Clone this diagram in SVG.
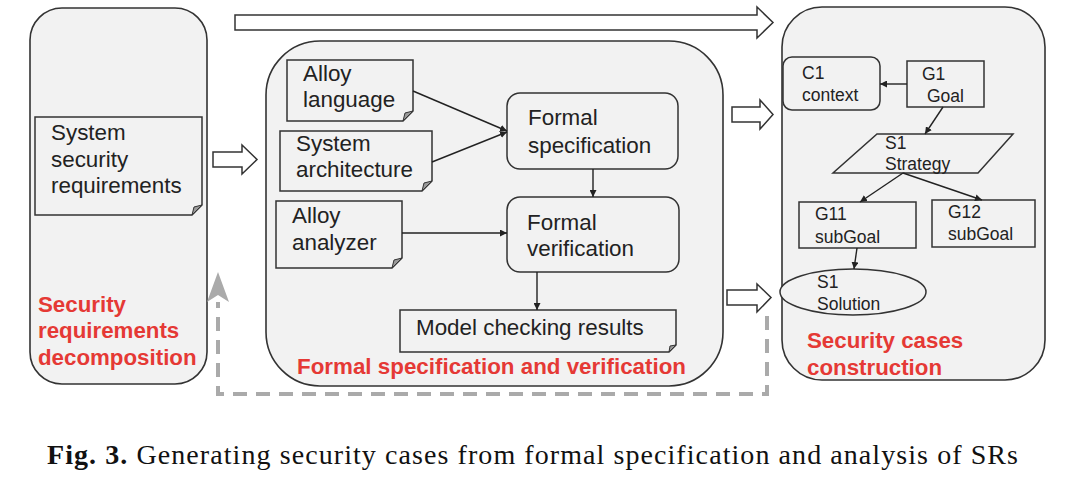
<svg xmlns="http://www.w3.org/2000/svg" width="1074" height="486" viewBox="0 0 1074 486">
<defs>
<marker id="ah" viewBox="0 0 10 10" refX="10" refY="5" markerWidth="7" markerHeight="7" markerUnits="userSpaceOnUse" orient="auto">
<path d="M0,0 L10,5 L0,10 Z" fill="#222"/>
</marker>
<style>
.cont{fill:#f2f2f2;stroke:#333;stroke-width:1.6}
.box{fill:#f2f2f2;stroke:#333;stroke-width:1.5}
.fold{fill:#9a9a9a;stroke:#333;stroke-width:1}
.hollow{fill:#fff;stroke:#333;stroke-width:1.5;stroke-linejoin:miter}
.t{font-family:"Liberation Sans",Arial,sans-serif;font-size:22.4px;fill:#222}
.s{font-family:"Liberation Sans",Arial,sans-serif;font-size:17.5px;fill:#222}
.red{font-family:"Liberation Sans",Arial,sans-serif;font-size:22.3px;font-weight:bold;fill:#e53935}
.edge{fill:none;stroke:#222;stroke-width:1.4}
.cap{font-family:"Liberation Serif","Times New Roman",serif;font-size:28px;fill:#111}
</style>
</defs>
<rect width="1074" height="486" fill="#fff"/>

<!-- containers -->
<g id="sr-decomposition">
<rect class="cont" x="30" y="8" width="177" height="376" rx="32"/>
<text class="red" x="38" y="312">Security</text>
<text class="red" x="38" y="338">requirements</text>
<text class="red" x="38" y="365">decomposition</text>
</g>
<g id="formal-spec-verif">
<rect class="cont" x="266" y="41" width="457" height="345" rx="54"/>
<text class="red" x="297" y="374" textLength="389" lengthAdjust="spacingAndGlyphs">Formal specification and verification</text>
</g>
<g id="security-cases">
<rect class="cont" x="782" y="7" width="263" height="373" rx="40"/>
<text class="red" x="807" y="348">Security cases</text>
<text class="red" x="807" y="375">construction</text>
</g>

<!-- nodes -->
<g id="ssr">
<path class="box" d="M35,117 H202 V205 L192,215 H35 Z"/>
<path class="fold" d="M202,205 L194,207 L192,215 Z"/>
<text class="t" x="51" y="140">System</text>
<text class="t" x="51" y="167">security</text>
<text class="t" x="51" y="193">requirements</text>
</g>
<g id="alloy-language">
<path class="box" d="M287,60 H413 V111 L403,121 H287 Z"/>
<path class="fold" d="M413,111 L405,113 L403,121 Z"/>
<text class="t" x="303" y="81">Alloy</text>
<text class="t" x="303" y="107">language</text>
</g>
<g id="system-architecture">
<path class="box" d="M280,131 H432 V181 L422,191 H280 Z"/>
<path class="fold" d="M432,181 L424,183 L422,191 Z"/>
<text class="t" x="296" y="151">System</text>
<text class="t" x="296" y="177">architecture</text>
</g>
<g id="alloy-analyzer">
<path class="box" d="M276,201 H402 V258 L392,268 H276 Z"/>
<path class="fold" d="M402,258 L394,260 L392,268 Z"/>
<text class="t" x="292" y="223">Alloy</text>
<text class="t" x="292" y="250">analyzer</text>
</g>
<g id="formal-specification">
<rect class="box" x="507" y="93" width="171" height="76" rx="13"/>
<text class="t" x="528" y="125">Formal</text>
<text class="t" x="528" y="153">specification</text>
</g>
<g id="formal-verification">
<rect class="box" x="507" y="197" width="172" height="75" rx="13"/>
<text class="t" x="527" y="230">Formal</text>
<text class="t" x="527" y="256">verification</text>
</g>
<g id="model-checking-results">
<path class="box" d="M400,310 H676 V345 L669,352 H400 Z"/>
<path class="fold" d="M676,345 L670,346 L669,352 Z"/>
<text class="t" x="416" y="335">Model checking results</text>
</g>

<g id="c1-context">
<rect class="box" x="783" y="57" width="97" height="53" rx="9"/>
<text class="s" x="802" y="79">C1</text>
<text class="s" x="802" y="101">context</text>
</g>
<g id="g1-goal">
<rect class="box" x="907" y="61" width="77" height="46"/>
<text class="s" x="922" y="80">G1</text>
<text class="s" x="927" y="102">Goal</text>
</g>
<g id="s1-strategy">
<path class="box" d="M877,134 H1013 L978,173 H833 Z"/>
<text class="s" x="885" y="149">S1</text>
<text class="s" x="885" y="170">Strategy</text>
</g>
<g id="g11-subgoal">
<rect class="box" x="799" y="202" width="117" height="46"/>
<text class="s" x="815" y="220">G11</text>
<text class="s" x="815" y="243">subGoal</text>
</g>
<g id="g12-subgoal">
<rect class="box" x="932" y="200" width="103" height="47"/>
<text class="s" x="948" y="218">G12</text>
<text class="s" x="948" y="240">subGoal</text>
</g>
<g id="s1-solution">
<ellipse class="box" cx="853" cy="292" rx="73" ry="23"/>
<text class="s" x="817" y="288">S1</text>
<text class="s" x="817" y="310">Solution</text>
</g>

<!-- connectors -->
<g id="connectors">
<polygon class="hollow" points="235,15 757,15 757,7 773,22.5 757,38 757,30 235,30"/>
<polygon class="hollow" points="213,152 242,152 242,145 257,159.5 242,174 242,167 213,167"/>
<polygon class="hollow" points="732,107 760,107 760,100 773,114.5 760,129 760,122 732,122"/>
<polygon class="hollow" points="727,290 757,290 757,284 771,297.5 757,312 757,305 727,305"/>

<line class="edge" x1="413" y1="91" x2="507" y2="131" marker-end="url(#ah)"/>
<line class="edge" x1="432" y1="162" x2="507" y2="132" marker-end="url(#ah)"/>
<line class="edge" x1="402" y1="233" x2="507" y2="233" stroke-width="2" marker-end="url(#ah)"/>
<line class="edge" x1="593" y1="169" x2="593" y2="197" marker-end="url(#ah)"/>
<line class="edge" x1="537" y1="272" x2="537" y2="310" marker-end="url(#ah)"/>

<line class="edge" x1="907" y1="84" x2="880" y2="84" marker-end="url(#ah)"/>
<line class="edge" x1="943" y1="107" x2="925" y2="134" marker-end="url(#ah)"/>
<line class="edge" x1="903" y1="173" x2="860" y2="202" marker-end="url(#ah)"/>
<line class="edge" x1="903" y1="173" x2="982" y2="200" marker-end="url(#ah)"/>
<line class="edge" x1="857" y1="248" x2="854" y2="269" marker-end="url(#ah)"/>

<path d="M767,316 V394 H218 V302" fill="none" stroke="#aaa" stroke-width="4" stroke-dasharray="14 9"/>
<polygon points="218,272 229,302 218,295 207,302" fill="#aaa"/>
</g>

<text class="cap" x="47" y="464" textLength="971" lengthAdjust="spacing"><tspan font-weight="bold">Fig. 3.</tspan> Generating security cases from formal specification and analysis of SRs</text>
</svg>
